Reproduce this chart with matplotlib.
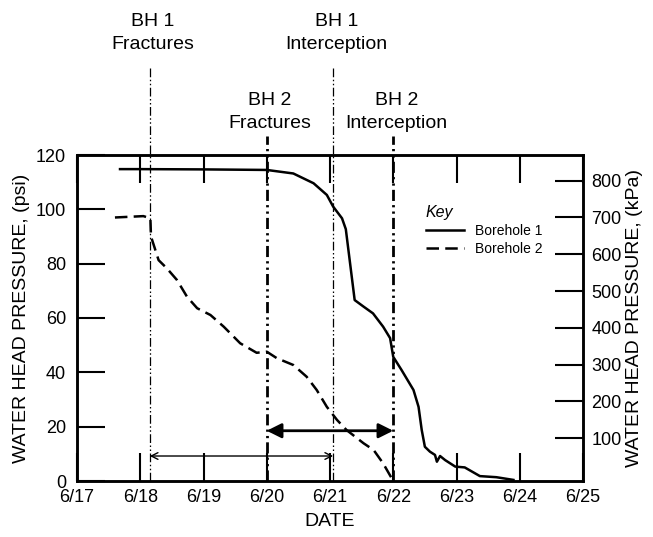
import matplotlib
matplotlib.use("Agg")
import matplotlib.pyplot as plt
from matplotlib.transforms import blended_transform_factory

plt.rcParams['font.family'] = ['Liberation Sans', 'DejaVu Sans']

# x values: days after 6/17 (0 = 6/17)
tick_labels = ["6/17", "6/18", "6/19", "6/20", "6/21", "6/22", "6/23", "6/24", "6/25"]
tick_pos = [0, 1, 2, 3, 4, 5, 6, 7, 8]

bh1_days = [0.68, 1.0, 2.0, 3.0, 3.42, 3.74, 3.95, 4.05, 4.19, 4.25, 4.39, 4.53, 4.68,
            4.84, 4.95, 5.0, 5.13, 5.32, 5.40, 5.45, 5.50, 5.58, 5.66, 5.69, 5.74,
            5.82, 5.98, 6.13, 6.37, 6.63, 6.9]
bh1_psi = [114.8, 114.8, 114.7, 114.5, 113.2, 109.6, 105.3, 101.0, 96.7, 92.7, 66.6, 64.2, 61.7,
           56.8, 52.6, 45.7, 40.9, 33.5, 27.3, 18.8, 12.6, 10.8, 9.6, 7.1, 9.2,
           7.7, 5.3, 5.0, 1.8, 1.4, 0.4]

bh2_days = [0.6, 1.05, 1.16, 1.17, 1.29, 1.42, 1.58, 1.74, 1.90, 2.11, 2.32, 2.58, 2.84,
            3.0, 3.16, 3.42, 3.63, 3.79, 3.95, 4.11, 4.26, 4.53, 4.69, 4.84, 5.0]
bh2_psi = [97.0, 97.5, 96.7, 90.0, 81.3, 78.3, 74.0, 67.8, 63.6, 61.1, 56.8, 50.7, 47.2,
           47.6, 45.2, 42.7, 38.4, 33.5, 27.3, 22.5, 18.8, 13.9, 11.4, 6.5, 0.0]

events = ["BH 1\nFractures", "BH 2\nFractures", "BH 1\nInterception", "BH 2\nInterception"]
event_days = [1.15, 3.0, 4.05, 5.0]

fig = plt.figure(figsize=(6.53, 5.37), dpi=100)
ax = fig.add_axes([77/653, 1-481/537, 506/653, 326/537])

ax.plot(bh1_days, bh1_psi, color='black', lw=1.8, label='Borehole 1')
ax.plot(bh2_days, bh2_psi, color='black', lw=1.8, linestyle=(0, (5, 2.5)), label='Borehole 2')

ax.set_xlim(0, 8)
ax.set_ylim(0, 120)
ax.set_xticks(tick_pos)
ax.set_xticklabels(tick_labels)
ax.set_yticks([0, 20, 40, 60, 80, 100, 120])
ax.tick_params(axis='x', direction='in', length=20, width=1.5, top=True, labelsize=13, pad=6)
ax.tick_params(axis='y', direction='in', length=20, width=1.5, labelsize=13, pad=8)
for s in ax.spines.values():
    s.set_linewidth(1.8)
ax.set_xlabel("DATE", fontsize=14, labelpad=5)
ax.set_ylabel("WATER HEAD PRESSURE, (psi)", fontsize=14, labelpad=4)

ax2 = ax.twinx()
ax2.set_ylim(-16.3, 869.6)
ax2.set_yticks([100, 200, 300, 400, 500, 600, 700, 800])
ax2.tick_params(axis='y', direction='in', length=20, width=1.5, labelsize=13, pad=6)
for s in ax2.spines.values():
    s.set_linewidth(1.8)
ax2.set_ylabel("WATER HEAD PRESSURE, (kPa)", fontsize=14, labelpad=3)

# event lines
thin_style = (0, (7, 2, 1.2, 2, 1.2, 2))
thick_style = (0, (4, 1.5, 0.8, 1.5, 0.8, 1.5))
tops = {"BH 1": (481-68)/326, "BH 2": (481-136)/326}
text_y = {"BH 1": (481-33)/326, "BH 2": (481-112)/326}
trans = blended_transform_factory(ax.transData, ax.transAxes)
for lab, d in zip(events, event_days):
    key = lab.split("\n")[0]
    if key == "BH 1":
        ax.axvline(d, ymin=0, ymax=tops[key], color='black', lw=0.9, linestyle=thin_style, clip_on=False)
    else:
        ax.axvline(d, ymin=0, ymax=tops[key], color='black', lw=2.0, linestyle=thick_style, clip_on=False)
    ax.text(d + 0.05, text_y[key], lab, transform=trans, ha='center', va='center',
            fontsize=14, linespacing=1.45)

# arrows
ax.annotate('', xy=(event_days[2], 9.2), xytext=(event_days[0], 9.2),
            arrowprops=dict(arrowstyle='<->', lw=1.0, color='black', shrinkA=0, shrinkB=0,
                            mutation_scale=12))
ax.annotate('', xy=(event_days[3], 18.5), xytext=(event_days[1], 18.5),
            arrowprops=dict(arrowstyle='<|-|>', lw=2.0, color='black', shrinkA=0, shrinkB=0,
                            mutation_scale=22))

leg = ax.legend(loc='upper left', bbox_to_anchor=((426-77)/506, (481-205)/326), frameon=False,
                fontsize=10, handlelength=2.7, handletextpad=0.8, labelspacing=0.3,
                borderpad=0, borderaxespad=0, title="Key",
                title_fontproperties={'style': 'italic', 'size': 11.5}, alignment='left')

fig.savefig("out.png", dpi=100)
